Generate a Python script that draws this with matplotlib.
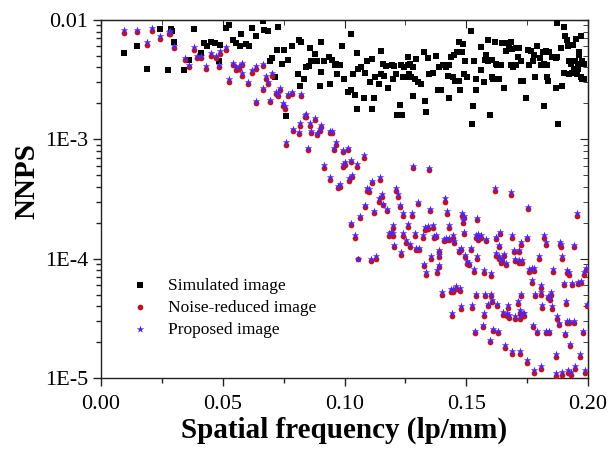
import matplotlib
matplotlib.use("Agg")
import matplotlib.pyplot as plt
from matplotlib.ticker import LogLocator, MultipleLocator, NullFormatter

plt.rcParams["font.family"] = ["Liberation Serif", "DejaVu Serif"]

# ---- data (NNPS vs spatial frequency) ----
sim_freq = [
    0.0094, 0.0149, 0.0190, 0.0242, 0.0276, 0.0286, 0.0290, 0.0299, 0.0342, 0.0362,
    0.0381, 0.0409, 0.0422, 0.0433, 0.0450, 0.0467, 0.0485, 0.0488, 0.0512, 0.0525,
    0.0540, 0.0553, 0.0570, 0.0576, 0.0597, 0.0608, 0.0620, 0.0638, 0.0665, 0.0668,
    0.0686, 0.0693, 0.0704, 0.0713, 0.0724, 0.0727, 0.0744, 0.0751, 0.0761, 0.0768,
    0.0785, 0.0809, 0.0813, 0.0818, 0.0822, 0.0832, 0.0843, 0.0852, 0.0857, 0.0863,
    0.0877, 0.0887, 0.0898, 0.0902, 0.0904, 0.0915, 0.0936, 0.0941, 0.0950, 0.0959,
    0.0966, 0.0970, 0.0982, 0.0990, 0.0996, 0.1014, 0.1025, 0.1027, 0.1034, 0.1044,
    0.1051, 0.1052, 0.1055, 0.1068, 0.1078, 0.1086, 0.1093, 0.1105, 0.1112, 0.1113,
    0.1120, 0.1127, 0.1143, 0.1148, 0.1150, 0.1157, 0.1161, 0.1171, 0.1178, 0.1195,
    0.1198, 0.1205, 0.1212, 0.1215, 0.1225, 0.1226, 0.1232, 0.1236, 0.1239, 0.1246,
    0.1250, 0.1259, 0.1260, 0.1264, 0.1269, 0.1273, 0.1280, 0.1283, 0.1291, 0.1294,
    0.1300, 0.1314, 0.1328, 0.1332, 0.1335, 0.1342, 0.1348, 0.1362, 0.1376, 0.1382,
    0.1387, 0.1396, 0.1403, 0.1417, 0.1423, 0.1430, 0.1431, 0.1437, 0.1444, 0.1451,
    0.1455, 0.1460, 0.1471, 0.1472, 0.1474, 0.1482, 0.1488, 0.1492, 0.1494, 0.1505,
    0.1519, 0.1523, 0.1526, 0.1533, 0.1540, 0.1541, 0.1560, 0.1561, 0.1574, 0.1578,
    0.1581, 0.1588, 0.1591, 0.1597, 0.1605, 0.1606, 0.1611, 0.1619, 0.1622, 0.1628,
    0.1635, 0.1642, 0.1645, 0.1657, 0.1663, 0.1664, 0.1676, 0.1683, 0.1684, 0.1687,
    0.1690, 0.1704, 0.1705, 0.1714, 0.1717, 0.1724, 0.1725, 0.1731, 0.1744, 0.1752,
    0.1758, 0.1765, 0.1775, 0.1779, 0.1781, 0.1792, 0.1802, 0.1806, 0.1816, 0.1820,
    0.1821, 0.1827, 0.1831, 0.1833, 0.1837, 0.1840, 0.1854, 0.1867, 0.1868, 0.1872,
    0.1874, 0.1877, 0.1888, 0.1892, 0.1902, 0.1903, 0.1904, 0.1915, 0.1919, 0.1920,
    0.1922, 0.1929, 0.1936, 0.1937, 0.1943, 0.1947, 0.1952, 0.1953, 0.1957, 0.1960,
    0.1963, 0.1964, 0.1970, 0.1971, 0.1974, 0.1975, 0.1984, 0.1985,
]
sim_nnps = [
    5.3e-3, 6.1e-3, 3.9e-3, 8.4e-3, 3.8e-3, 8.4e-3, 8.1e-3, 6.6e-3, 3.8e-3, 4.6e-3,
    8.4e-3, 5.3e-3, 6.4e-3, 6.0e-3, 6.5e-3, 6.4e-3, 4.5e-3, 6.2e-3, 8.6e-3, 9.1e-3,
    6.8e-3, 6.4e-3, 6.0e-3, 7.6e-3, 6.3e-3, 6.0e-3, 8.6e-3, 7.4e-3, 9.8e-3, 8.2e-3,
    8.1e-3, 4.5e-3, 4.8e-3, 3.3e-3, 5.6e-3, 8.8e-3, 4.3e-3, 5.6e-3, 1.57e-3, 4.6e-3,
    6.0e-3, 3.5e-3, 6.8e-3, 2.8e-3, 6.6e-3, 3.2e-3, 4.0e-3, 4.1e-3, 5.8e-3, 4.5e-3,
    5.2e-3, 4.5e-3, 2.8e-3, 6.6e-3, 3.7e-3, 4.5e-3, 4.9e-3, 2.9e-3, 4.6e-3, 4.2e-3,
    4.3e-3, 3.5e-3, 4.2e-3, 6.0e-3, 3.2e-3, 2.5e-3, 7.6e-3, 2.6e-3, 3.5e-3, 2.35e-3,
    1.8e-3, 5.3e-3, 3.9e-3, 4.0e-3, 2.2e-3, 3.6e-3, 4.5e-3, 3.0e-3, 1.8e-3, 4.7e-3,
    2.2e-3, 3.3e-3, 2.9e-3, 3.5e-3, 5.5e-3, 4.3e-3, 3.4e-3, 4.1e-3, 2.7e-3, 4.2e-3,
    3.2e-3, 4.1e-3, 3.5e-3, 1.6e-3, 1.6e-3, 1.95e-3, 4.2e-3, 1.6e-3, 3.3e-3, 4.0e-3,
    3.3e-3, 4.2e-3, 4.9e-3, 3.5e-3, 4.3e-3, 3.3e-3, 2.3e-3, 4.0e-3, 3.2e-3, 4.7e-3,
    3.0e-3, 2.9e-3, 5.4e-3, 2.1e-3, 1.7e-3, 4.8e-3, 3.5e-3, 3.6e-3, 5.0e-3, 2.6e-3,
    4.0e-3, 2.6e-3, 4.2e-3, 4.0e-3, 3.4e-3, 4.2e-3, 2.2e-3, 4.9e-3, 3.3e-3, 5.1e-3,
    3.1e-3, 5.4e-3, 3.1e-3, 6.6e-3, 2.6e-3, 5.4e-3, 6.3e-3, 3.5e-3, 4.5e-3, 3.3e-3,
    8.1e-3, 1.35e-3, 1.9e-3, 4.5e-3, 3.2e-3, 2.6e-3, 5.9e-3, 3.8e-3, 3.0e-3, 4.6e-3,
    5.1e-3, 6.8e-3, 4.5e-3, 1.6e-3, 4.6e-3, 3.3e-3, 3.2e-3, 6.6e-3, 4.3e-3, 4.2e-3,
    3.2e-3, 4.2e-3, 6.4e-3, 2.7e-3, 6.4e-3, 5.5e-3, 5.8e-3, 6.6e-3, 4.2e-3, 5.7e-3,
    4.0e-3, 4.2e-3, 5.8e-3, 4.9e-3, 5.8e-3, 4.5e-3, 3.1e-3, 3.1e-3, 2.2e-3, 5.6e-3,
    4.2e-3, 5.5e-3, 4.5e-3, 5.1e-3, 3.3e-3, 6.0e-3, 4.8e-3, 4.2e-3, 5.4e-3, 4.3e-3,
    1.9e-3, 5.5e-3, 3.3e-3, 4.2e-3, 3.1e-3, 5.4e-3, 4.9e-3, 4.8e-3, 2.7e-3, 9.4e-3,
    4.9e-3, 1.35e-3, 5.8e-3, 2.8e-3, 3.6e-3, 8.8e-3, 7.3e-3, 6.8e-3, 6.0e-3, 4.5e-3,
    3.5e-3, 4.3e-3, 3.6e-3, 6.2e-3, 3.9e-3, 4.5e-3, 6.9e-3, 3.5e-3, 3.9e-3, 4.3e-3,
    5.4e-3, 5.1e-3, 7.4e-3, 3.3e-3, 4.5e-3, 3.2e-3, 4.3e-3, 3.2e-3,
]

nr_freq = [
    0.0094, 0.0149, 0.0190, 0.0210, 0.0243, 0.0279, 0.0284, 0.0300, 0.0343, 0.0363,
    0.0380, 0.0392, 0.0409, 0.0429, 0.0452, 0.0474, 0.0485, 0.0490, 0.0512, 0.0526,
    0.0542, 0.0556, 0.0567, 0.0577, 0.0580, 0.0602, 0.0619, 0.0635, 0.0638, 0.0665,
    0.0667, 0.0679, 0.0686, 0.0694, 0.0704, 0.0720, 0.0727, 0.0734, 0.0747, 0.0754,
    0.0761, 0.0768, 0.0786, 0.0788, 0.0813, 0.0816, 0.0822, 0.0836, 0.0843, 0.0851,
    0.0857, 0.0863, 0.0878, 0.0887, 0.0898, 0.0904, 0.0914, 0.0939, 0.0941, 0.0948,
    0.0957, 0.0966, 0.0973, 0.0980, 0.0993, 0.0995, 0.1000, 0.1014, 0.1018, 0.1025,
    0.1027, 0.1029, 0.1045, 0.1050, 0.1057, 0.1064, 0.1078, 0.1086, 0.1091, 0.1100,
    0.1109, 0.1113, 0.1123, 0.1130, 0.1143, 0.1146, 0.1154, 0.1157, 0.1175, 0.1182,
    0.1191, 0.1197, 0.1199, 0.1205, 0.1212, 0.1218, 0.1228, 0.1232, 0.1240, 0.1242,
    0.1253, 0.1259, 0.1270, 0.1277, 0.1280, 0.1291, 0.1294, 0.1300, 0.1305, 0.1321,
    0.1328, 0.1332, 0.1335, 0.1342, 0.1348, 0.1352, 0.1355, 0.1362, 0.1369, 0.1376,
    0.1380, 0.1386, 0.1387, 0.1389, 0.1400, 0.1407, 0.1414, 0.1417, 0.1419, 0.1428,
    0.1430, 0.1437, 0.1440, 0.1444, 0.1447, 0.1451, 0.1458, 0.1471, 0.1475, 0.1478,
    0.1479, 0.1482, 0.1485, 0.1489, 0.1492, 0.1496, 0.1502, 0.1512, 0.1519, 0.1523,
    0.1533, 0.1537, 0.1540, 0.1541, 0.1543, 0.1546, 0.1548, 0.1550, 0.1560, 0.1567,
    0.1571, 0.1574, 0.1578, 0.1581, 0.1588, 0.1597, 0.1601, 0.1603, 0.1605, 0.1608,
    0.1618, 0.1622, 0.1624, 0.1627, 0.1629, 0.1633, 0.1635, 0.1637, 0.1642, 0.1646,
    0.1649, 0.1656, 0.1658, 0.1663, 0.1667, 0.1670, 0.1676, 0.1684, 0.1686, 0.1687,
    0.1697, 0.1699, 0.1702, 0.1714, 0.1716, 0.1717, 0.1720, 0.1721, 0.1722, 0.1724,
    0.1725, 0.1728, 0.1731, 0.1738, 0.1749, 0.1750, 0.1752, 0.1758, 0.1768, 0.1769,
    0.1776, 0.1777, 0.1779, 0.1783, 0.1790, 0.1797, 0.1806, 0.1807, 0.1808, 0.1813,
    0.1821, 0.1827, 0.1829, 0.1837, 0.1840, 0.1844, 0.1847, 0.1853, 0.1858, 0.1867,
    0.1870, 0.1871, 0.1881, 0.1883, 0.1888, 0.1892, 0.1895, 0.1902, 0.1904, 0.1909,
    0.1913, 0.1915, 0.1916, 0.1922, 0.1923, 0.1926, 0.1929, 0.1936, 0.1943, 0.1944,
    0.1945, 0.1954, 0.1960, 0.1966, 0.1970, 0.1981, 0.1984, 0.1988, 0.1993, 0.1996,
]
nr_nnps = [
    7.8e-3, 7.9e-3, 6.2e-3, 8.1e-3, 6.9e-3, 7.6e-3, 7.7e-3, 5.8e-3, 4.6e-3, 4.0e-3,
    5.6e-3, 4.8e-3, 4.8e-3, 3.9e-3, 5.0e-3, 4.8e-3, 4.0e-3, 5.2e-3, 5.6e-3, 3.0e-3,
    4.2e-3, 3.8e-3, 3.9e-3, 4.2e-3, 3.4e-3, 2.9e-3, 3.6e-3, 2.0e-3, 3.9e-3, 4.1e-3,
    2.6e-3, 3.2e-3, 2.9e-3, 2.05e-3, 3.4e-3, 2.4e-3, 2.3e-3, 2.6e-3, 1.9e-3, 1.8e-3,
    9.0e-4, 2.3e-3, 2.4e-3, 1.17e-3, 1.1e-3, 1.3e-3, 2.3e-3, 1.53e-3, 1.55e-3, 8.1e-4,
    1.3e-3, 1.12e-3, 1.45e-3, 1.08e-3, 1.17e-3, 1.27e-3, 5.8e-4, 1.12e-3, 4.6e-4, 1.12e-3,
    8.1e-4, 9.0e-4, 3.9e-4, 4.0e-4, 7.8e-4, 5.9e-4, 6.1e-4, 8.1e-4, 4.5e-4, 6.4e-4,
    1.9e-4, 4.8e-4, 1.5e-4, 5.9e-4, 1.0e-4, 2.2e-4, 7.0e-4, 2.7e-4, 3.7e-4, 3.6e-4,
    9.5e-5, 4.3e-4, 2.4e-4, 1.0e-4, 3.0e-4, 4.6e-4, 3.3e-4, 2.8e-4, 2.5e-4, 1.56e-4,
    1.6e-4, 1.8e-4, 1.55e-4, 1.25e-4, 3.7e-4, 3.3e-4, 2.7e-4, 1.08e-4, 2.3e-4, 1.56e-4,
    1.36e-4, 1.85e-4, 1.26e-4, 2.3e-4, 5.7e-4, 1.55e-4, 1.18e-4, 2.9e-4, 1.18e-4, 1.5e-4,
    8.7e-5, 1.75e-4, 7.3e-5, 1.78e-4, 5.5e-4, 2.5e-4, 1.0e-4, 1.8e-4, 1.48e-4, 1.51e-4,
    7.6e-5, 1.03e-4, 8.5e-5, 1.13e-4, 5.0e-5, 1.4e-4, 3.0e-4, 1.43e-4, 2.35e-4, 1.8e-4,
    1.43e-4, 5.3e-5, 3.3e-5, 1.5e-4, 5.3e-5, 1.35e-4, 5.6e-5, 1.13e-4, 5.4e-5, 1.18e-4,
    3.8e-5, 2.3e-4, 2.0e-4, 1.6e-4, 2.2e-4, 1.03e-4, 9.0e-5, 8.8e-5, 1.18e-4, 3.9e-5,
    7.8e-5, 2.4e-5, 1.5e-4, 4.9e-5, 1.0e-4, 2.1e-4, 1.43e-4, 1.53e-4, 1.5e-4, 2.7e-5,
    3.3e-5, 7.6e-5, 4.9e-5, 1.4e-4, 4.0e-5, 2.0e-5, 7.2e-5, 4.9e-5, 4.3e-5, 2.5e-5,
    3.7e-4, 1.06e-4, 1.45e-4, 4.0e-5, 2.4e-5, 1.25e-4, 1.0e-4, 1.6e-4, 9.2e-5, 9.5e-5,
    3.4e-5, 1.05e-4, 1.8e-5, 8.8e-5, 3.3e-5, 3.9e-5, 3.2e-5, 3.4e-4, 1.5e-4, 1.6e-5,
    1.13e-4, 3.1e-5, 9.5e-5, 4.2e-5, 9.2e-5, 1.13e-4, 3.1e-5, 1.6e-5, 3.5e-5, 4.9e-5,
    1.3e-4, 9.2e-5, 3.3e-5, 3.3e-5, 1.45e-4, 1.35e-5, 2.6e-4, 7.8e-5, 6.3e-5, 8.0e-5,
    2.7e-5, 7.9e-5, 1.1e-5, 4.9e-5, 2.4e-5, 1.0e-4, 5.0e-5, 1.2e-5, 5.7e-5, 3.9e-5,
    1.5e-4, 2.4e-5, 1.3e-4, 4.7e-5, 2.4e-5, 4.5e-5, 5.0e-5, 3.8e-5, 7.8e-5, 1.5e-5,
    1.05e-5, 3.1e-5, 2.8e-5, 1.3e-4, 1.26e-4, 1.0e-4, 1.07e-5, 6.0e-5, 2.3e-5, 4.2e-5,
    2.9e-5, 7.6e-5, 1.1e-5, 2.9e-5, 7.3e-5, 1.85e-5, 1.07e-5, 6.0e-5, 1.25e-4, 2.9e-5,
    1.2e-5, 2.3e-4, 6.1e-5, 1.5e-5, 6.2e-5, 2.4e-5, 7.3e-5, 1.1e-5, 8.0e-5, 4.0e-5,
]

# proposed image shares the frequency bins of the noise-reduced one
prop_freq = nr_freq
prop_nnps = [
    8.2e-3, 8.3e-3, 6.5e-3, 8.5e-3, 7.3e-3, 8.0e-3, 8.1e-3, 6.1e-3, 4.8e-3, 4.2e-3,
    5.9e-3, 5.0e-3, 5.0e-3, 4.1e-3, 5.3e-3, 5.0e-3, 4.2e-3, 5.5e-3, 5.9e-3, 3.2e-3,
    4.4e-3, 4.0e-3, 4.1e-3, 4.4e-3, 3.6e-3, 3.0e-3, 3.8e-3, 2.1e-3, 4.1e-3, 4.3e-3,
    2.7e-3, 3.4e-3, 3.0e-3, 2.15e-3, 3.6e-3, 2.5e-3, 2.4e-3, 2.7e-3, 2.0e-3, 1.9e-3,
    9.5e-4, 2.4e-3, 2.5e-3, 1.23e-3, 1.16e-3, 1.37e-3, 2.4e-3, 1.61e-3, 1.63e-3, 8.5e-4,
    1.37e-3, 1.18e-3, 1.52e-3, 1.13e-3, 1.23e-3, 1.33e-3, 6.1e-4, 1.18e-3, 4.8e-4, 1.18e-3,
    8.5e-4, 9.5e-4, 4.1e-4, 4.2e-4, 8.2e-4, 6.2e-4, 6.4e-4, 8.5e-4, 4.7e-4, 6.7e-4,
    2.0e-4, 5.0e-4, 1.58e-4, 6.2e-4, 1.0e-4, 2.3e-4, 7.4e-4, 2.8e-4, 3.9e-4, 3.8e-4,
    1.0e-4, 4.5e-4, 2.5e-4, 1.05e-4, 3.2e-4, 4.8e-4, 3.5e-4, 2.9e-4, 2.6e-4, 1.64e-4,
    1.68e-4, 1.9e-4, 1.63e-4, 1.31e-4, 3.9e-4, 3.5e-4, 2.8e-4, 1.13e-4, 2.4e-4, 1.64e-4,
    1.43e-4, 1.94e-4, 1.32e-4, 2.4e-4, 6.0e-4, 1.63e-4, 1.24e-4, 3.0e-4, 1.24e-4, 1.58e-4,
    9.1e-5, 1.84e-4, 7.7e-5, 1.87e-4, 5.8e-4, 2.6e-4, 1.05e-4, 1.9e-4, 1.55e-4, 1.59e-4,
    8.0e-5, 1.08e-4, 8.9e-5, 1.19e-4, 5.3e-5, 1.47e-4, 3.2e-4, 1.5e-4, 2.5e-4, 1.9e-4,
    1.5e-4, 5.6e-5, 3.5e-5, 1.58e-4, 5.6e-5, 1.42e-4, 5.9e-5, 1.19e-4, 5.7e-5, 1.24e-4,
    4.0e-5, 2.4e-4, 2.1e-4, 1.68e-4, 2.3e-4, 1.08e-4, 9.5e-5, 9.2e-5, 1.24e-4, 4.1e-5,
    8.2e-5, 2.5e-5, 1.58e-4, 5.1e-5, 1.05e-4, 2.2e-4, 1.5e-4, 1.61e-4, 1.58e-4, 2.8e-5,
    3.5e-5, 8.0e-5, 5.1e-5, 1.47e-4, 4.2e-5, 2.1e-5, 7.6e-5, 5.1e-5, 4.5e-5, 2.6e-5,
    3.9e-4, 1.11e-4, 1.52e-4, 4.2e-5, 2.5e-5, 1.31e-4, 1.05e-4, 1.68e-4, 9.7e-5, 1.0e-4,
    3.6e-5, 1.1e-4, 1.9e-5, 9.2e-5, 3.5e-5, 4.1e-5, 3.4e-5, 3.6e-4, 1.58e-4, 1.7e-5,
    1.19e-4, 3.3e-5, 1.0e-4, 4.4e-5, 9.7e-5, 1.19e-4, 3.3e-5, 1.7e-5, 3.7e-5, 5.1e-5,
    1.37e-4, 9.7e-5, 3.5e-5, 3.5e-5, 1.52e-4, 1.42e-5, 2.7e-4, 8.2e-5, 6.6e-5, 8.4e-5,
    2.8e-5, 8.3e-5, 1.16e-5, 5.1e-5, 2.5e-5, 1.05e-4, 5.3e-5, 1.26e-5, 6.0e-5, 4.1e-5,
    1.58e-4, 2.5e-5, 1.37e-4, 4.9e-5, 2.5e-5, 4.7e-5, 5.3e-5, 4.0e-5, 8.2e-5, 1.58e-5,
    1.1e-5, 3.3e-5, 2.9e-5, 1.37e-4, 1.32e-4, 1.05e-4, 1.12e-5, 6.3e-5, 2.4e-5, 4.4e-5,
    3.0e-5, 8.0e-5, 1.16e-5, 3.0e-5, 7.7e-5, 1.94e-5, 1.12e-5, 6.3e-5, 1.31e-4, 3.0e-5,
    1.26e-5, 2.4e-4, 6.4e-5, 1.58e-5, 6.5e-5, 2.5e-5, 7.7e-5, 1.16e-5, 8.4e-5, 4.2e-5,
]

x_ticks = [0.00, 0.05, 0.10, 0.15, 0.20]
x_ticklabels = ["0.00", "0.05", "0.10", "0.15", "0.20"]
y_ticks = [1e-5, 1e-4, 1e-3, 1e-2]
y_ticklabels = ["1E-5", "1E-4", "1E-3", "0.01"]

fig = plt.figure(figsize=(6.09, 4.49), dpi=100)
ax = fig.add_axes([0.166, 0.158, 0.7995, 0.7975])

ax.scatter(sim_freq, sim_nnps, marker="s", s=14, color="black", linewidths=0,
           label="Simulated image", zorder=3)
ax.scatter(nr_freq, nr_nnps, marker="o", s=17, color="#c01418", linewidths=0,
           label="Noise-reduced image", zorder=4)
ax.scatter(prop_freq, prop_nnps, marker="*", s=32, color="#5522ee", linewidths=0,
           label="Proposed image", zorder=5)

ax.set_xlim(0.0, 0.2)
ax.set_yscale("log")
ax.set_ylim(1e-5, 1e-2)

ax.set_xticks(x_ticks, labels=x_ticklabels)
ax.xaxis.set_minor_locator(MultipleLocator(0.025))
ax.set_yticks(y_ticks, labels=y_ticklabels)
ax.yaxis.set_minor_locator(LogLocator(base=10, subs=range(2, 10)))
ax.yaxis.set_minor_formatter(NullFormatter())

ax.tick_params(which="both", direction="out", labelsize=16, width=1.0, color="#222222")
ax.tick_params(which="major", length=6)
ax.tick_params(which="minor", length=3.5)
ax.tick_params(axis="x", which="major", pad=6)
for sp in ax.spines.values():
    sp.set_linewidth(1.0)
    sp.set_color("#222222")

# mirrored inward ticks on top and right
top = ax.secondary_xaxis("top")
top.set_xticks(x_ticks)
top.xaxis.set_minor_locator(MultipleLocator(0.025))
top.tick_params(which="both", direction="in", labeltop=False, color="#222222")
top.tick_params(which="major", length=6)
top.tick_params(which="minor", length=3.5)
right = ax.secondary_yaxis("right")
right.set_yticks(y_ticks)
right.yaxis.set_minor_locator(LogLocator(base=10, subs=range(2, 10)))
right.yaxis.set_minor_formatter(NullFormatter())
right.tick_params(which="both", direction="in", labelright=False, color="#222222")
right.tick_params(which="major", length=6)
right.tick_params(which="minor", length=3.5)

ax.set_xlabel("Spatial frequency (lp/mm)", fontsize=21, fontweight="bold", labelpad=2)
ax.set_ylabel("NNPS", fontsize=21, fontweight="bold")
ax.yaxis.set_label_coords(-0.125, 0.55)

ax.legend(loc="upper left", bbox_to_anchor=(0.0626, 0.28), frameon=False,
          fontsize=12.5, scatterpoints=1, handlelength=1.0, handletextpad=1.1,
          labelspacing=0.33, borderpad=0, borderaxespad=0)

fig.savefig("out.png", dpi=100)
